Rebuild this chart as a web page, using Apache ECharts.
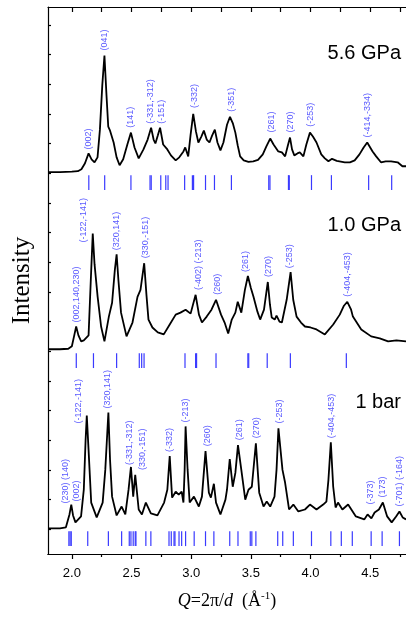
<!DOCTYPE html>
<html>
<head>
<meta charset="utf-8">
<script src="https://cdn.jsdelivr.net/npm/echarts@6/dist/echarts.min.js"></script>
<style>
  html, body { margin: 0; padding: 0; background: #fff; }
  #chart { width: 406px; height: 617px; }
</style>
</head>
<body>
<div id="chart"></div>
<script>
// Powder diffraction patterns, intensity (a.u.) versus Q = 2π/d (Å⁻¹).
// Each trace is a list of [Q, intensity above its own baseline].

const trace56 = [
  [1.80,1],[1.90,1],[2.00,1.5],[2.05,2],[2.08,4],[2.11,10],[2.14,20],[2.165,14],[2.19,11],[2.215,16],
  [2.235,44],[2.255,89],[2.273,119],[2.29,79],[2.305,47],[2.32,43],[2.35,31],[2.375,16],[2.40,8],[2.43,14],
  [2.465,29],[2.495,41],[2.525,26],[2.56,15],[2.60,24],[2.635,34],[2.664,46],[2.685,34],[2.70,30],[2.72,38],
  [2.739,46],[2.765,29],[2.80,24],[2.83,18],[2.87,13],[2.90,16],[2.935,22],[2.95,26],[2.975,17],[2.995,39],
  [3.017,60],[3.04,42],[3.06,31],[3.085,37],[3.106,43],[3.13,34],[3.153,31],[3.175,38],[3.198,44],[3.22,31],
  [3.245,23],[3.27,31],[3.30,49],[3.325,57],[3.35,50],[3.37,41],[3.39,28],[3.41,17],[3.44,13],[3.48,11.5],
  [3.52,12],[3.56,13.5],[3.60,19],[3.63,27],[3.662,35],[3.69,29],[3.73,22],[3.76,21],[3.787,17],[3.81,28],
  [3.828,36],[3.845,24],[3.864,18],[3.89,20],[3.91,21],[3.94,17],[3.965,29],[3.995,41],[4.02,37],[4.05,31],
  [4.09,19],[4.12,15],[4.15,12],[4.18,14.5],[4.22,12.5],[4.287,11],[4.33,11],[4.37,13],[4.41,19],[4.445,26],
  [4.475,31],[4.50,26],[4.52,22],[4.55,17],[4.59,11],[4.63,12],[4.675,12],[4.73,11],[4.77,7],[4.80,7]
];

const trace10 = [
  [1.80,2],[1.90,2],[1.97,2.5],[2.00,5],[2.02,16],[2.036,25],[2.055,16],[2.078,10],[2.10,11],[2.14,16],
  [2.158,70],[2.175,119],[2.19,88],[2.216,55],[2.245,25],[2.273,10],[2.31,35],[2.337,49],[2.36,82],[2.375,98],
  [2.39,72],[2.412,39],[2.458,15],[2.508,29],[2.55,55],[2.575,62],[2.606,89],[2.625,57],[2.642,32],[2.675,24],
  [2.72,19],[2.77,17],[2.82,27],[2.87,37],[2.91,39],[2.953,42],[2.995,38],[3.037,57],[3.065,37],[3.09,29],
  [3.13,35],[3.17,42],[3.208,52],[3.25,37],[3.28,29],[3.31,18],[3.34,32],[3.37,39],[3.39,50],[3.42,39],
  [3.45,62],[3.475,76],[3.50,64],[3.522,55],[3.555,40],[3.578,32],[3.61,42],[3.642,70],[3.66,47],[3.675,34],
  [3.70,32],[3.715,36],[3.74,30],[3.76,29],[3.80,52],[3.833,80],[3.855,52],[3.883,35],[3.92,29],[3.953,25],
  [4.00,24],[4.05,22],[4.12,17],[4.19,27],[4.245,37],[4.28,46],[4.308,50],[4.34,42],[4.355,35],[4.425,22],
  [4.508,15],[4.58,13],[4.65,10],[4.72,11],[4.80,10]
];

const trace1 = [
  [1.80,1],[1.90,1],[1.95,2],[1.96,4],[1.98,15],[1.995,25],[2.01,14],[2.03,7],[2.077,13],[2.10,40],
  [2.115,90],[2.125,115],[2.14,80],[2.162,27],[2.208,12],[2.258,27],[2.28,60],[2.306,118],[2.32,70],[2.337,33],
  [2.375,14],[2.417,23],[2.448,15],[2.475,40],[2.495,63],[2.514,33],[2.531,55],[2.56,20],[2.587,15],[2.62,27],
  [2.662,16],[2.717,14],[2.773,27],[2.80,40],[2.82,74],[2.84,32],[2.87,38],[2.895,35],[2.92,38],[2.935,27],
  [2.945,60],[2.953,104],[2.97,60],[2.987,27],[3.023,33],[3.064,23],[3.09,33],[3.12,79],[3.148,37],[3.165,32],
  [3.19,46],[3.208,27],[3.245,15],[3.287,30],[3.30,40],[3.323,71],[3.348,43],[3.37,57],[3.392,85],[3.42,60],
  [3.453,30],[3.48,40],[3.508,43],[3.542,87],[3.57,37],[3.606,23],[3.633,28],[3.662,23],[3.698,33],[3.715,60],
  [3.731,102],[3.765,60],[3.787,47],[3.82,20],[3.856,25],[3.898,18],[3.953,20],[3.995,25],[4.05,20],[4.106,25],
  [4.133,28],[4.15,50],[4.17,88],[4.19,43],[4.21,22],[4.23,27],[4.267,20],[4.315,25],[4.38,13],[4.45,10],
  [4.478,15],[4.51,11],[4.537,17],[4.573,20],[4.606,27],[4.642,13],[4.68,7],[4.717,13],[4.745,18],[4.772,12],
  [4.80,10]
];

// Calculated reflection positions (Q) drawn as short bars under each trace
const refl56 = [2.142, 2.275, 2.495, 2.655, 2.665, 2.745, 2.787, 2.806, 2.945, 3.01, 3.02, 3.12, 3.195,
  3.337, 3.65, 3.66, 3.815, 3.822, 4.008, 4.175, 4.487, 4.68];
const refl10 = [2.037, 2.181, 2.375, 2.565, 2.585, 2.605, 2.948, 3.037, 3.045, 3.208, 3.475, 3.482, 3.637,
  3.831, 4.30];
const refl1 = [1.975, 1.985, 1.995, 2.133, 2.306, 2.417, 2.481, 2.495, 2.514, 2.531, 2.537, 2.62, 2.662,
  2.814, 2.833, 2.856, 2.864, 2.898, 2.92, 2.953, 3.025, 3.12, 3.19, 3.323, 3.392, 3.495, 3.508, 3.542,
  3.725, 3.767, 3.856, 4.008, 4.17, 4.258, 4.35, 4.508, 4.6, 4.745];

// Miller-index annotations: [text, Q, height above baseline where the text starts]
const labels56 = [
  ['(002)', 2.14, 24], ['(041)', 2.273, 124], ['(141)', 2.495, 46], ['(-331,-312)', 2.662, 50],
  ['(-151)', 2.753, 50], ['(-332)', 3.028, 66], ['(-351)', 3.337, 62], ['(261)', 3.675, 41],
  ['(270)', 3.833, 41], ['(-253)', 4.0, 47], ['(-414,-334)', 4.48, 36]
];
const labels10 = [
  ['(002,140,230)', 2.037, 29], ['(-122,-141)', 2.098, 110], ['(320,141)', 2.37, 102],
  ['(330,-151)', 2.614, 94], ['(-402) (-213)', 3.058, 62], ['(260)', 3.217, 57], ['(261)', 3.458, 80],
  ['(270)', 3.648, 75], ['(-253)', 3.828, 84], ['(-404,-453)', 4.308, 55]
];
const labels1 = [
  ['(230) (140)', 1.948, 26], ['(002)', 2.037, 28], ['(-122,-141)', 2.058, 107], ['(320,141)', 2.295, 122],
  ['(-331,-312)', 2.481, 65], ['(330,-151)', 2.592, 60], ['(-332)', 2.822, 78], ['(-213)', 2.953, 108],
  ['(260)', 3.133, 84], ['(261)', 3.406, 90], ['(270)', 3.55, 92], ['(-253)', 3.736, 107],
  ['(-404,-453)', 4.175, 92], ['(-373)', 4.503, 25], ['(173)', 4.606, 32], ['(-701) (-164)', 4.745, 23]
];

// Axis tick values
const xMajor = [2.0, 2.5, 3.0, 3.5, 4.0, 4.5];
const xMinor = [2.25, 2.75, 3.25, 3.75, 4.25, 4.75];
const xTop = [2.0, 2.25, 2.5, 2.75, 3.0, 3.25, 3.5, 3.75, 4.0, 4.25, 4.5, 4.75];
const yTicks = [0, 30, 60, 90, 120, 150, 180, 210, 240, 270, 300, 330, 360, 390, 420, 450, 480, 510];

const SANS = '"Liberation Sans", Arial, Helvetica, sans-serif';
const SERIF = '"Liberation Serif", "Times New Roman", Times, serif';
const BAR_BLUE = '#3a3aff';
const TEXT_BLUE = '#5a5aff';
const FRAME = { color: '#000', width: 1.2 };

// Vertical stacking of the three patterns
const patterns = [
  { name: '5.6 GPa', offset: 360, trace: trace56, refl: refl56, labels: labels56, titleTop: 43 },
  { name: '1.0 GPa', offset: 180, trace: trace10, refl: refl10, labels: labels10, titleTop: 215 },
  { name: '1 bar',   offset: 0,   trace: trace1,  refl: refl1,  labels: labels1,  titleTop: 392 }
];

const series = [];
patterns.forEach(p => {
  series.push({
    type: 'line',
    data: p.trace.map(([q, v]) => [q, v + p.offset]),
    showSymbol: false,
    symbol: 'none',
    lineStyle: { color: '#000', width: 1.8 },
    z: 3
  });
  series.push({
    type: 'custom',
    data: p.refl.map(q => [q, p.offset]),
    renderItem: (params, api) => {
      const a = api.coord([api.value(0), api.value(1) - 2]);
      const b = api.coord([api.value(0), api.value(1) - 17]);
      return {
        type: 'line',
        shape: { x1: a[0], y1: a[1], x2: b[0], y2: b[1] },
        style: { stroke: BAR_BLUE, lineWidth: 1.2 }
      };
    },
    z: 2
  });
  series.push({
    type: 'custom',
    data: p.labels.map(l => [l[1], l[2] + p.offset]),
    clip: false,
    renderItem: (params, api) => {
      const a = api.coord([api.value(0), api.value(1)]);
      return {
        type: 'text',
        x: a[0],
        y: a[1],
        rotation: Math.PI / 2,
        style: {
          text: p.labels[params.dataIndex][0],
          fill: TEXT_BLUE,
          font: '9px ' + SANS,
          textAlign: 'left',
          align: 'left',
          textVerticalAlign: 'middle',
          verticalAlign: 'middle'
        }
      };
    },
    z: 4
  });
});

const chart = echarts.init(document.getElementById('chart'), null, { renderer: 'canvas' });
chart.setOption({
  animation: false,
  backgroundColor: '#fff',
  grid: { left: 48, right: -3, top: 7, bottom: 63, containLabel: false },
  xAxis: [
    {
      type: 'value', min: 1.8, max: 4.8, position: 'bottom',
      axisLine: { show: true, onZero: false, lineStyle: FRAME },
      axisTick: { show: true, inside: false, length: 5, customValues: xMajor, lineStyle: FRAME },
      axisLabel: { show: true, customValues: xMajor, formatter: v => v.toFixed(1), margin: 13,
        fontFamily: SANS, fontSize: 13, color: '#000' },
      splitLine: { show: false },
      name: '{i|Q}{n|=2π/}{i|d}{n|  (Å}{s|-1}{n|)}',
      nameLocation: 'middle',
      nameGap: 37,
      nameTextStyle: {
        rich: {
          i: { fontFamily: SERIF, fontStyle: 'italic', fontSize: 18, color: '#000' },
          n: { fontFamily: SERIF, fontSize: 18, color: '#000' },
          s: { fontFamily: SERIF, fontSize: 11, color: '#000', padding: [0, 0, 10, 0] }
        }
      }
    },
    {
      // shorter intermediate ticks on the bottom edge
      type: 'value', min: 1.8, max: 4.8, position: 'bottom',
      axisLine: { show: true, onZero: false, lineStyle: FRAME },
      axisTick: { show: true, inside: false, length: 3, customValues: xMinor, lineStyle: FRAME },
      axisLabel: { show: false },
      splitLine: { show: false }
    },
    {
      type: 'value', min: 1.8, max: 4.8, position: 'top',
      axisLine: { show: true, onZero: false, lineStyle: FRAME },
      axisTick: { show: true, inside: true, length: 5, customValues: xTop, lineStyle: FRAME },
      axisLabel: { show: false },
      splitLine: { show: false }
    }
  ],
  yAxis: [
    {
      type: 'value', min: -25, max: 528, position: 'left',
      axisLine: { show: true, onZero: false, lineStyle: FRAME },
      axisTick: { show: true, inside: true, length: 3, customValues: yTicks, lineStyle: FRAME },
      axisLabel: { show: false },
      splitLine: { show: false },
      name: 'Intensity',
      nameLocation: 'middle',
      nameGap: 13,
      nameTextStyle: { fontFamily: SERIF, fontSize: 25, color: '#000' }
    }
  ],
  graphic: patterns.map(p => ({
    type: 'text',
    right: 5,
    top: p.titleTop,
    style: { text: p.name, font: '20px ' + SANS, fill: '#000' }
  })),
  series: series
});
</script>
</body>
</html>
